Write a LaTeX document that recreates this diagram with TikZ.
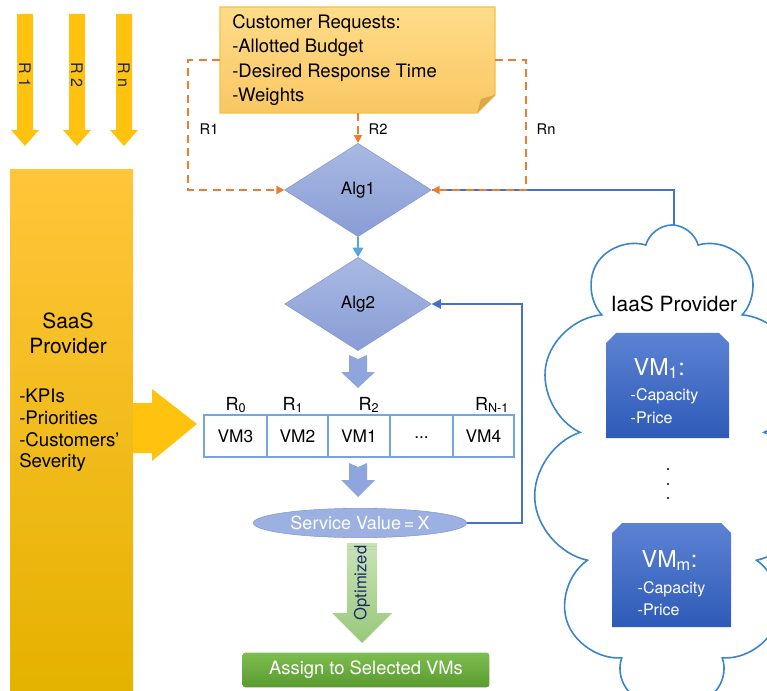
\documentclass[tikz,border=0pt]{standalone}
\usepackage{fontspec}
\setmainfont{TeX Gyre Heros}
\usetikzlibrary{shapes.geometric,shapes.symbols,arrows.meta,calc}
\definecolor{yelA}{HTML}{FFC20E}
\definecolor{saasT}{HTML}{FFC63A}
\definecolor{saasB}{HTML}{E4B200}
\definecolor{noteT}{HTML}{FFDC8A}
\definecolor{noteB}{HTML}{F9C762}
\definecolor{noteD}{HTML}{F3C14A}
\definecolor{foldC}{HTML}{D9A94A}
\definecolor{orng}{HTML}{ED7D31}
\definecolor{diaT}{HTML}{A9B9E3}
\definecolor{diaB}{HTML}{889DD5}
\definecolor{diaD}{HTML}{8297D1}
\definecolor{lblue}{HTML}{5BA3DC}
\definecolor{blk}{HTML}{8FA5DD}
\definecolor{cellD}{HTML}{73A5E0}
\definecolor{svF}{HTML}{9DB0E2}
\definecolor{fbl}{HTML}{4472C4}
\definecolor{grnT}{HTML}{C9E3B8}
\definecolor{grnB}{HTML}{98C879}
\definecolor{boxT}{HTML}{7DBE50}
\definecolor{boxB}{HTML}{5A9A30}
\definecolor{vmT}{HTML}{5C82D3}
\definecolor{vmB}{HTML}{2E5BB8}
\definecolor{navy}{HTML}{1C2A6B}
\definecolor{cloudD}{HTML}{3A86C8}
\tikzset{
  dia/.style={diamond, draw=diaD, top color=diaT, bottom color=diaB, minimum width=110pt, minimum height=70pt, inner sep=0pt, font=\fontsize{12.8}{14}\selectfont},
  odash/.style={draw=orng, line width=1.5pt, dash pattern=on 6pt off 4pt, -{Triangle[length=6pt,width=6pt]}},
  cell/.style={draw=cellD, line width=1.1pt, fill=white, minimum height=31.5pt, inner sep=0pt, font=\fontsize{13}{15}\selectfont},
  rlab/.style={font=\fontsize{13.5}{15}\selectfont, anchor=base},
  slab/.style={font=\fontsize{11}{12}\selectfont, anchor=base west},
  vmtxt/.style={text=white, anchor=base west, font=\fontsize{12}{14}\selectfont},
  vmhead/.style={text=white, anchor=base west, font=\fontsize{17.5}{19}\selectfont},
}
\begin{document}
\begin{tikzpicture}[x=0.75pt,y=-0.75pt]
\useasboundingbox (0,0) rectangle (767,691);
\clip (0,0) rectangle (767,691);
% top yellow arrows
\foreach \c/\t/\n in {25/R 1/ra, 77/R 2/rb, 124/R n/rc} {
  \fill[yelA] (\c-8,14) -- (\c+8,14) -- (\c+8,130) -- (\c+14,130) -- (\c,146) -- (\c-14,130) -- (\c-8,130) -- cycle;
  \node[rotate=-90, text=navy, font=\fontsize{12}{14}\selectfont] (\n) at (\c,75) {\t};
}
% SaaS provider
\shade[top color=saasT, bottom color=saasB] (10,170) rectangle (133,691);
\node[align=center, font=\fontsize{15.7}{18.75}\selectfont] (saas) at (68,333) {SaaS\\Provider};
\node[anchor=north west, align=left, inner sep=0pt, font=\fontsize{14}{16.2}\selectfont] (kpi) at (19,389) {-KPIs\\-Priorities\\-Customers’\\Severity};
% big arrow
\fill[yelA] (133,403) -- (152,403) -- (152,389) -- (197,424) -- (152,461) -- (152,453) -- (133,453) -- cycle;
% note
\shade[top color=noteT, bottom color=noteB] (220,7) -- (495,7) -- (495,95) -- (477,113) -- (220,113) -- cycle;
\draw[noteD, line width=0.8pt] (220,7) -- (495,7) -- (495,95) -- (477,113) -- (220,113) -- cycle;
\fill[foldC] (495,95) -- (477,113) -- (481,99) -- cycle;
\node[anchor=north west, align=left, inner sep=0pt, font=\fontsize{13.9}{18.4}\selectfont] (note) at (232,14) {Customer Requests:\\-Allotted Budget\\-Desired Response Time\\-Weights};
\coordinate (nL) at (220,60);
\coordinate (nR) at (495,60);
\coordinate (nB) at (358,113);
% diamonds
\node[dia] (alg1) at (358,190) {Alg1};
\node[dia] (alg2) at (358,304) {Alg2};
\draw[lblue, line width=0.8pt, -{Triangle[length=7pt,width=8pt]}] (alg1.south) -- (alg2.north);
% blue line from cloud
\coordinate (ctop) at (674,250);
\draw[fbl, line width=1.4pt] (ctop) |- (alg1.east);
% orange dashed connectors
\draw[odash] (nL) -| (188,190) -- (alg1.west);
\draw[odash] (nR) -| (526,190) -- (alg1.east);
\draw[odash] (nB) -- (alg1.north);
\node[slab] (l1) at (195,135) {R1};
\node[slab] (l2) at (364,135) {R2};
\node[slab] (l3) at (532,135) {Rn};
% block arrow 1
\fill[blk] (349,355) -- (358,359) -- (367,355) -- (367,372) -- (375,372) -- (358,388) -- (341,372) -- (349,372) -- cycle;
% cells
\node[cell, minimum width=47.25pt] (c0) at (235.5,436) {VM3};
\node[cell, minimum width=45.75pt] (c1) at (297.5,436) {VM2};
\node[cell, minimum width=46.5pt]  (c2) at (359,436) {VM1};
\node[cell, minimum width=47.25pt] (c3) at (421.5,436) {\raisebox{-3pt}{...}};
\node[cell, minimum width=45.75pt] (c4) at (483.5,436) {VM4};
\node[rlab] (r0) at (236,410) {R\textsubscript{0}};
\node[rlab] (r1) at (293,410) {R\textsubscript{1}};
\node[rlab] (r2) at (369,410) {R\textsubscript{2}};
\node[rlab] (rn) at (492,410) {R\textsubscript{N-1}};
% block arrow 2
\fill[blk] (349,463) -- (358,467) -- (367,463) -- (367,480) -- (375,480) -- (358,497) -- (341,480) -- (349,480) -- cycle;
% service value
\node[ellipse, draw=diaD, fill=svF, minimum width=160pt, minimum height=22pt, inner sep=0pt, text=white, font=\fontsize{13.5}{15}\selectfont] (sv) at (360,523) {Service Value\,=\,X};
\draw[fbl, line width=1.2pt, -{Triangle[length=7pt,width=7pt]}] (sv.east) -| (522,304) -- (alg2.east);
% green arrow
\shade[top color=grnT, bottom color=grnB] (347,543) -- (377,543) -- (377,613) -- (392,613) -- (362,643) -- (332,613) -- (347,613) -- cycle;
\draw[grnB!70!white, line width=0.6pt] (347,546) -- (377,546) (347,549) -- (377,549);
\node[rotate=90, text=navy, font=\fontsize{12.5}{14}\selectfont] (opt) at (362,583) {Optimized};
% assign box
\node[rounded corners=2pt, top color=boxT, bottom color=boxB, minimum width=185pt, minimum height=26pt, inner sep=0pt, text=white, font=\fontsize{13.8}{15}\selectfont] (assign) at (366,670) {Assign to Selected VMs};
% cloud
\node[cloud, cloud puffs=11, cloud ignores aspect, draw=cloudD, line width=1.2pt, fill=white, minimum width=208pt, minimum height=360pt] (cloud) at (672,465) {};
\node[font=\fontsize{15.7}{18}\selectfont, anchor=base] (iaas) at (674,312) {IaaS Provider};
% VM boxes
\shade[top color=vmT, bottom color=vmB] (616,333) -- (719,333) -- (729,343) -- (729,438) -- (606,438) -- (606,343) -- cycle;
\node[vmhead] (vm1) at (629,375) {VM\textsubscript{1}:};
\node[vmtxt] (vm1a) at (626,400) {-Capacity};
\node[vmtxt] (vm1b) at (626,423) {-Price};
\shade[top color=vmT, bottom color=vmB] (622,523) -- (721,523) -- (731,533) -- (731,627) -- (612,627) -- (612,533) -- cycle;
\node[vmhead] (vmm) at (637,567) {VM\textsubscript{m}:};
\node[vmtxt] (vmma) at (633,593) {-Capacity};
\node[vmtxt] (vmmb) at (633,615) {-Price};
\foreach \yy in {469,484,498} \fill (668,\yy) circle (1.1);
\end{tikzpicture}
\end{document}
